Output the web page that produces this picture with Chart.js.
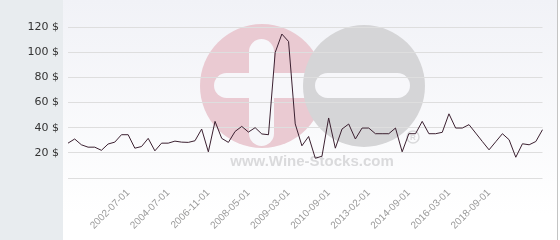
<!DOCTYPE html>
<html>
<head>
<meta charset="utf-8">
<script src="https://cdn.jsdelivr.net/npm/chart.js@4/dist/chart.umd.min.js"></script>
<style>
  html, body { margin: 0; padding: 0; background: #fff; }
  canvas { display: block; }
</style>
</head>
<body>
<canvas id="graficaPrecio" width="560" height="240"></canvas>
<script>
// fechas de cada cotizacion (solo se conocen las que se ven en el eje)
const fechas = [
  '', '', '', '', '', '',
  '', '', '', '2002-07-01', '', '',
  '', '', '', '2004-07-01', '', '',
  '', '', '', '2006-11-01', '', '',
  '', '', '', '2008-05-01', '', '',
  '', '', '', '2009-03-01', '', '',
  '', '', '', '2010-09-01', '', '',
  '', '', '', '2013-02-01', '', '',
  '', '', '', '2014-09-01', '', '',
  '', '', '', '2016-03-01', '', '',
  '', '', '', '2018-09-01', '', '',
  '', '', '', '', '', ''
];

// precio en $
const precios = [
  27.7, 31, 26.4, 24.5, 24.5, 22, 27, 28.5, 34.4, 34.4,
  23.7, 25, 31.5, 21.6, 27.7, 27.7, 29.3, 28.5, 28.3, 29.6,
  38.9, 20.8, 45, 31.5, 28.3, 37, 41, 36.5, 40, 35,
  34.4, 99.7, 114.4, 108.5, 43, 25.6, 33, 15.7, 17.3, 47.7,
  23.7, 38.9, 42.9, 31, 39.7, 39.7, 35.2, 35.2, 35.2, 39.7,
  20.8, 35.2, 35.2, 45, 35.2, 35.2, 36.3, 51, 39.7, 39.7,
  42.4, 35.7, 29, 22.4, 28.8, 35.2, 30.4, 16.5, 27.2, 26.4,
  29, 38.4
];

const ejeMin = 0;
const ejeMax = 120;
const ejePaso = 20;

const canvas = document.getElementById('graficaPrecio');

// FONDO, PANEL IZQUIERDO Y MARCA DE AGUA
const fondo = {
  id: 'fondo',
  beforeDraw: (chart) => {
    const ctx = chart.ctx;
    ctx.save();
    ctx.fillStyle = '#e8ecef';
    ctx.fillRect(0, 0, 63, 240);
    const grad = ctx.createLinearGradient(0, 0, 0, 215);
    grad.addColorStop(0, '#f1f2f7');
    grad.addColorStop(1, '#ffffff');
    ctx.fillStyle = grad;
    ctx.fillRect(63, 0, 494, 240);

    // marca de agua: circulo rosado con "+"
    ctx.fillStyle = '#eacad2';
    ctx.beginPath();
    ctx.arc(262, 86, 62, 0, Math.PI * 2);
    ctx.fill();
    ctx.fillStyle = '#f7f7fa';
    ctx.beginPath();
    ctx.roundRect(214, 73, 110, 25, 12.5);
    ctx.fill();
    ctx.beginPath();
    ctx.roundRect(249, 39, 25, 107, 12.5);
    ctx.fill();

    // circulo gris con "-"
    ctx.fillStyle = '#d5d5d7';
    ctx.beginPath();
    ctx.arc(364, 86, 61, 0, Math.PI * 2);
    ctx.fill();
    ctx.fillStyle = '#f7f7fa';
    ctx.beginPath();
    ctx.roundRect(315, 73, 95, 25, 12.5);
    ctx.fill();

    ctx.fillStyle = '#dadadc';
    ctx.font = 'bold 15px "Liberation Sans"';
    ctx.textAlign = 'center';
    ctx.textBaseline = 'middle';
    ctx.fillText('www.Wine-Stocks.com', 312, 162);
    ctx.strokeStyle = '#d9d9db';
    ctx.lineWidth = 1.5;
    ctx.beginPath();
    ctx.arc(413, 137, 6, 0, Math.PI * 2);
    ctx.stroke();
    ctx.font = 'bold 8px "Liberation Sans"';
    ctx.fillText('R', 413, 137.5);

    // borde derecho
    ctx.strokeStyle = '#c4c4c4';
    ctx.lineWidth = 1;
    ctx.beginPath();
    ctx.moveTo(557.5, 0);
    ctx.lineTo(557.5, 240);
    ctx.stroke();
    ctx.restore();
  }
};

const config = {
  type: 'line',
  data: {
    labels: fechas,
    datasets: [{
      data: precios,
      borderColor: '#3b2030',
      borderWidth: 1,
      pointRadius: 0,
      tension: 0,
      fill: false
    }]
  },
  options: {
    responsive: false,
    animation: false,
    devicePixelRatio: 1,
    layout: { padding: { top: 27, right: 5, left: 0, bottom: 0 } },
    plugins: {
      legend: { display: false },
      tooltip: { enabled: false }
    },
    scales: {
      x: {
        offset: false,
        grid: { display: false, drawTicks: false },
        border: { display: false },
        ticks: {
          autoSkip: false,
          minRotation: 45,
          maxRotation: 45,
          padding: 9,
          color: '#9a9a9a',
          font: { family: 'Liberation Sans', size: 10 }
        },
        afterFit: (scale) => { scale.height = 62; }
      },
      y: {
        min: ejeMin,
        max: ejeMax,
        grid: { color: '#dedede', drawTicks: false },
        border: { display: false },
        ticks: {
          stepSize: ejePaso,
          padding: 9,
          color: '#333333',
          font: { family: 'DejaVu Sans', size: 11 },
          callback: (valor) => valor === 0 ? '' : valor + ' $'
        },
        afterFit: (scale) => { scale.width = 68; }
      }
    }
  },
  plugins: [fondo]
};

new Chart(canvas, config);
</script>
</body>
</html>
